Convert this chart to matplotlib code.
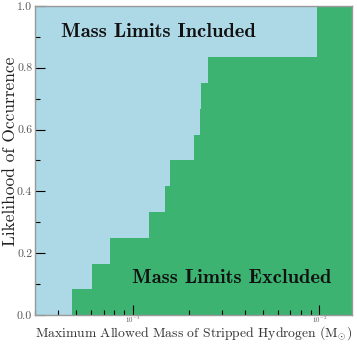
import numpy as np
import matplotlib
matplotlib.use("Agg")
import matplotlib.pyplot as plt

plt.rcParams['font.family'] = 'serif'
plt.rcParams['font.serif'] = ['cmr10']
plt.rcParams['mathtext.fontset'] = 'cm'
plt.rcParams['axes.unicode_minus'] = False
plt.rcParams['axes.formatter.use_mathtext'] = True

# maximum allowed stripped hydrogen mass for each object (Msun)
mass_limits = [4.72e-4, 6.09e-4, 7.59e-4, 1.225e-3, 1.49e-3, 1.59e-3,
               2.13e-3, 2.29e-3, 2.32e-3, 2.54e-3, 9.76e-3, 9.76e-3]
x_range = [3.0e-4, 1.5e-2]
y_ticks = [0.0, 0.2, 0.4, 0.6, 0.8, 1.0]

m = np.sort(np.array(mass_limits))
frac = np.arange(1, len(m) + 1) / len(m)
xs = np.append(m, x_range[1])
ys = np.append(frac, 1.0)

fig = plt.figure(figsize=(3.57, 3.44), dpi=100)
ax = fig.add_axes([0.098, 0.084, 0.888, 0.899])
ax.set_facecolor('lightblue')
ax.fill_between(xs, ys, 0, step='post', color='mediumseagreen', lw=0)

ax.set_xscale('log')
ax.set_xlim(*x_range)
ax.set_ylim(0, 1)
ax.set_yticks(y_ticks)
ax.set_yticks(np.arange(0.1, 1.0, 0.2), minor=True)
ax.set_yticklabels(['%.1f' % t for t in y_ticks])

ax.tick_params(which='major', direction='in', length=7, width=0.8,
               labelsize=8.5, labelcolor='#555555', pad=2)
ax.tick_params(which='minor', direction='in', length=3.5, width=0.8)
ax.tick_params(axis='x', which='major', labelsize=5, pad=-0.5)
for s in ax.spines.values():
    s.set_color('#999999')
    s.set_linewidth(1.0)

ax.set_xlabel(r'Maximum Allowed Mass of Stripped Hydrogen ($\mathrm{M}_{\odot}$)',
              fontsize=9.8, color='#333333')
ax.xaxis.set_label_coords(0.5, -0.031)
ax.set_ylabel('Likelihood of Occurrence', fontsize=12.5, color='#222222')
ax.yaxis.set_label_coords(-0.055, 0.53)

ax.text(0.39, 0.915, 'Mass Limits Included', transform=ax.transAxes,
        ha='center', va='center', fontsize=14.8, family='cmb10', color='#111111')
ax.text(0.62, 0.12, 'Mass Limits Excluded', transform=ax.transAxes,
        ha='center', va='center', fontsize=14.8, family='cmb10', color='#111111')

fig.savefig('out.png', dpi=100)
